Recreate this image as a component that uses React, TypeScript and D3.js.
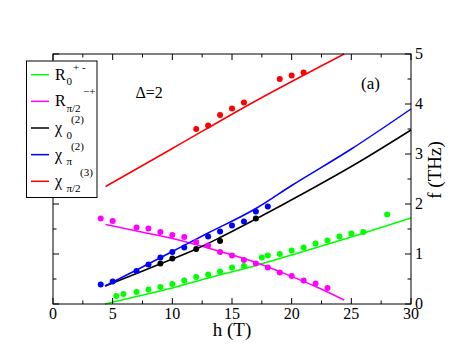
import * as d3 from "d3";

// measured points (h in T, f in THz)
const greenH = [5.3, 5.9, 7, 8, 9, 10, 11, 12, 13, 14, 15, 16, 17.5, 18, 19, 20, 21, 22, 23, 24, 25, 26, 28];
const greenF = [0.16, 0.2, 0.24, 0.29, 0.34, 0.4, 0.47, 0.54, 0.59, 0.65, 0.73, 0.76, 0.93, 0.97, 1.0, 1.07, 1.13, 1.21, 1.27, 1.35, 1.41, 1.44, 1.79];
const magentaH = [4, 5, 7, 8, 9, 10, 11, 12, 13, 14, 15, 16, 17, 18, 19, 20, 21, 22, 23];
const magentaF = [1.71, 1.66, 1.53, 1.51, 1.44, 1.38, 1.34, 1.24, 1.17, 1.04, 0.97, 0.88, 0.81, 0.73, 0.63, 0.56, 0.47, 0.41, 0.32];
const blueH = [4, 5, 7, 8, 9, 10, 11, 13, 14, 15, 16, 17, 18];
const blueF = [0.39, 0.45, 0.66, 0.79, 0.93, 1.04, 1.13, 1.35, 1.45, 1.57, 1.65, 1.85, 1.95];
const blackH = [9, 10, 12, 14, 17];
const blackF = [0.81, 0.91, 1.1, 1.26, 1.71];
const redH = [12, 13, 14, 15, 16, 19, 20, 21];
const redF = [3.5, 3.57, 3.78, 3.91, 4.03, 4.5, 4.57, 4.63];

// theory curves, sampled from the figure
const greenLineH = [4.36, 7, 10, 13, 16.7, 20, 25, 30];
const greenLineF = [0, 0.15, 0.32, 0.52, 0.75, 0.98, 1.34, 1.72];
const magentaLineH = [4.41, 7, 10, 14, 17, 20, 22, 24.4];
const magentaLineF = [1.59, 1.46, 1.31, 1.05, 0.83, 0.55, 0.35, 0.08];
const blackLineH = [4.36, 7, 10, 12, 14, 17, 21.5, 25.5, 30];
const blackLineF = [0.36, 0.61, 0.9, 1.1, 1.33, 1.7, 2.28, 2.82, 3.48];
const blueLineH = [4.36, 7, 10, 13, 17, 20, 25, 30];
const blueLineF = [0.36, 0.68, 1.05, 1.42, 1.91, 2.37, 3.1, 3.9];
const redLineH = [4.41, 10, 16.9, 24.4];
const redLineF = [2.35, 3.11, 4.05, 5.0];

const xTicks = [0, 5, 10, 15, 20, 25, 30];
const yTicks = [0, 1, 2, 3, 4, 5];

const FONT = '"Liberation Serif", "DejaVu Serif", serif';

const series = [
  { color: "#00ff00", h: greenH, f: greenF, lh: greenLineH, lf: greenLineF },
  { color: "#ff00ff", h: magentaH, f: magentaF, lh: magentaLineH, lf: magentaLineF },
  { color: "#000000", h: blackH, f: blackF, lh: blackLineH, lf: blackLineF },
  { color: "#0000ff", h: blueH, f: blueF, lh: blueLineH, lf: blueLineF },
  { color: "#ff0000", h: redH, f: redF, lh: redLineH, lf: redLineF },
];

const legendItems = [
  { color: "#00ff00", main: "R", sub: "0", sup: "+ -", supX: 73, supDy: -4 },
  { color: "#ff00ff", main: "R", sub: "π/2", sup: "−+", supX: 83, supDy: -6 },
  { color: "#000000", main: "χ", sub: "0", sup: "(2)", supX: 71, supDy: -5 },
  { color: "#0000ff", main: "χ", sub: "π", sup: "(2)", supX: 71, supDy: -5 },
  { color: "#ff0000", main: "χ", sub: "π/2", sup: "(3)", supX: 80, supDy: -5 },
];

export default function App() {
  const left = 53, right = 411, top = 54, bottom = 304;
  const x = d3.scaleLinear().domain([0, 30]).range([left, right]);
  const y = d3.scaleLinear().domain([0, 5]).range([bottom, top]);

  const xMinor = d3.range(2.5, 30, 5);
  const yMinor = d3.range(0.5, 5, 1);

  const line = d3
    .line<[number, number]>()
    .x((d) => x(d[0]))
    .y((d) => y(d[1]))
    .curve(d3.curveMonotoneX);

  const txt = { fontFamily: FONT, fill: "#000" };

  return (
    <svg
      width={463}
      height={358}
      style={{ position: "absolute", left: 0, top: 0, background: "#fff", fontFamily: FONT }}
    >
      {/* curves */}
      {series.map((s, i) => (
        <path
          key={"l" + i}
          d={line(s.lh.map((h, j) => [h, s.lf[j]] as [number, number])) || ""}
          fill="none"
          stroke={s.color}
          strokeWidth={1.5}
        />
      ))}
      {/* points */}
      {series.map((s, i) =>
        s.h.map((h, j) => (
          <circle key={"p" + i + "-" + j} cx={x(h)} cy={y(s.f[j])} r={3} fill={s.color} />
        ))
      )}

      {/* frame */}
      <rect x={left} y={top} width={right - left} height={bottom - top} fill="none" stroke="#000" strokeWidth={1} />

      {/* ticks, pointing inward on all sides */}
      <g stroke="#000" strokeWidth={1}>
        {xTicks.map((t) => (
          <g key={"xt" + t}>
            <line x1={x(t)} x2={x(t)} y1={bottom} y2={bottom - 6} />
            <line x1={x(t)} x2={x(t)} y1={top} y2={top + 6} />
          </g>
        ))}
        {xMinor.map((t) => (
          <g key={"xm" + t}>
            <line x1={x(t)} x2={x(t)} y1={bottom} y2={bottom - 3.5} />
            <line x1={x(t)} x2={x(t)} y1={top} y2={top + 3.5} />
          </g>
        ))}
        {yTicks.map((t) => (
          <g key={"yt" + t}>
            <line x1={left} x2={left + 6} y1={y(t)} y2={y(t)} />
            <line x1={right} x2={right - 6} y1={y(t)} y2={y(t)} />
          </g>
        ))}
        {yMinor.map((t) => (
          <g key={"ym" + t}>
            <line x1={left} x2={left + 3.5} y1={y(t)} y2={y(t)} />
            <line x1={right} x2={right - 3.5} y1={y(t)} y2={y(t)} />
          </g>
        ))}
      </g>

      {/* tick labels */}
      {xTicks.map((t) => (
        <text key={"xl" + t} x={x(t)} y={318.5} textAnchor="middle" fontSize={16} style={txt}>
          {t}
        </text>
      ))}
      {yTicks.map((t) => (
        <text key={"yl" + t} x={415} y={y(t) + 4.5} fontSize={16} style={txt}>
          {t}
        </text>
      ))}

      {/* axis titles */}
      <text x={232} y={336} textAnchor="middle" fontSize={19} style={txt}>
        h (T)
      </text>
      <text transform="translate(441,170) rotate(-90)" textAnchor="middle" fontSize={19} style={txt}>
        f (THz)
      </text>

      {/* annotations */}
      <text x={135.5} y={97.5} fontSize={16} style={txt}>
        Δ=2
      </text>
      <text x={361} y={89} fontSize={17} style={txt}>
        (a)
      </text>

      {/* legend */}
      <rect x={26.5} y={61} width={70.5} height={136.5} fill="#fff" stroke="#000" strokeWidth={1} />
      {legendItems.map((it, i) => {
        const ly = 74.7 + i * 26.65;
        return (
          <g key={"lg" + i}>
            <line x1={31} x2={49} y1={ly} y2={ly} stroke={it.color} strokeWidth={1.5} />
            <text x={55} y={ly + 5} fontSize={16} style={txt}>
              {it.main}
            </text>
            <text x={66.5} y={ly + 10.5} fontSize={11} style={txt}>
              {it.sub}
            </text>
            <text x={it.supX} y={ly + it.supDy} fontSize={11} style={txt}>
              {it.sup}
            </text>
          </g>
        );
      })}
    </svg>
  );
}
